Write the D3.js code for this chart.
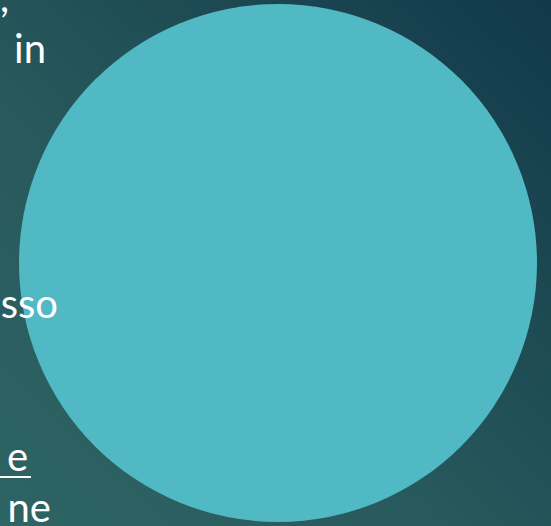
<!DOCTYPE html>
<html><head><meta charset="utf-8">
<script src="https://cdn.jsdelivr.net/npm/d3@7"></script>
<style>html,body{margin:0;padding:0;overflow:hidden;background:#1d4a52}</style>
</head><body>
<script>
// Data: a single-slice pie (100%)
const categories = ["Totale"];
const values = [100];
// Visible fragments of slide text (clipped at left edge)
const textFragments = [",", "in", "sso", "e", "ne"];
const textUnderlined = [false, false, false, true, false];

const W = 551, H = 526;
const svg = d3.select("body").append("svg").attr("width", W).attr("height", H);
const defs = svg.append("defs");
const g = defs.append("linearGradient").attr("id", "bg")
  .attr("x1", 0).attr("y1", 1).attr("x2", 1).attr("y2", 0);
g.append("stop").attr("offset", "0%").attr("stop-color", "#2e6464");
g.append("stop").attr("offset", "40%").attr("stop-color", "#28595c");
g.append("stop").attr("offset", "100%").attr("stop-color", "#113949");
svg.append("rect").attr("width", W).attr("height", H).attr("fill", "url(#bg)");

// Pie
const cx = 278, cy = 263, r = 259;
const pie = d3.pie().sort(null)(values);
const arc = d3.arc().innerRadius(0).outerRadius(r);
const color = d3.scaleOrdinal().domain(categories).range(["#50b9c3"]);
svg.append("g").attr("transform", `translate(${cx},${cy})`)
  .selectAll("path").data(pie).join("path")
  .attr("d", arc).attr("fill", (d, i) => color(categories[i]));

// Text layer (drawn over the pie)
const lineY = d3.scaleLinear().domain([0, 1]).range([12, 63]);
const baselines = [0, 1, 6, 9, 10].map(lineY);
const rightEdges = [9, 46, 58, 28, 51];
const tg = svg.append("g").attr("font-family", "'Century Gothic','Lato','Open Sans',sans-serif")
  .attr("font-size", 40).attr("fill", "#ffffff");
textFragments.forEach((t, i) => {
  tg.append("text").attr("x", rightEdges[i]).attr("y", baselines[i])
    .attr("text-anchor", "end").text(t);
  if (textUnderlined[i]) {
    tg.append("rect").attr("x", 0).attr("y", baselines[i] + 5).attr("width", 31).attr("height", 2).attr("fill", "#ffffff");
  }
});
</script>
</body></html>
